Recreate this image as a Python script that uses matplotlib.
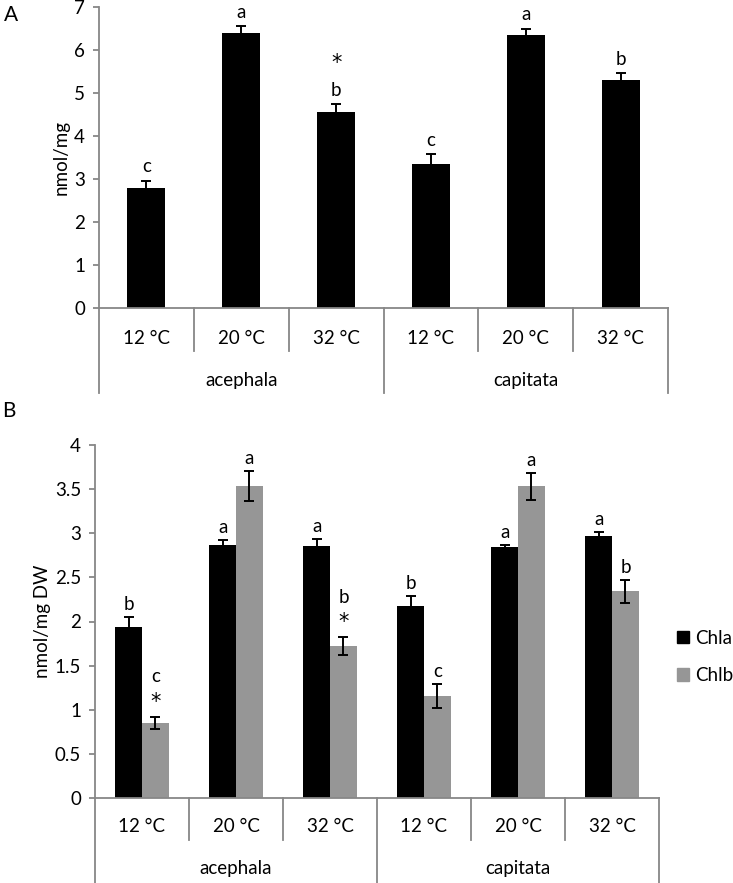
import numpy as np
import matplotlib
matplotlib.use("Agg")
import matplotlib.pyplot as plt
from matplotlib.patches import Patch

# categories
temps = ["12 °C", "20 °C", "32 °C", "12 °C", "20 °C", "32 °C"]
groups = ["acephala", "capitata"]

# panel A: total chlorophyll (nmol/mg)
a_vals = [2.79, 6.39, 4.56, 3.35, 6.36, 5.30]
a_err = [0.17, 0.17, 0.18, 0.23, 0.14, 0.16]
a_letters = ["c", "a", "b", "c", "a", "b"]
a_stars = [False, False, True, False, False, False]

# panel B: Chla / Chlb (nmol/mg DW)
chla = [1.94, 2.87, 2.86, 2.18, 2.84, 2.97]
chla_err = [0.11, 0.05, 0.07, 0.11, 0.03, 0.04]
chlb = [0.85, 3.53, 1.72, 1.16, 3.53, 2.34]
chlb_err = [0.065, 0.17, 0.10, 0.135, 0.155, 0.13]
chla_letters = ["b", "a", "a", "b", "a", "a"]
chlb_letters = ["c", "a", "b", "c", "a", "b"]
chlb_stars = [True, False, True, False, False, False]

AXIS_GRAY = "#878787"
CHLB_GRAY = "#969696"
FS = 13.5
STAR = dict(fontsize=15, family=["DejaVu Sans"])

plt.rcParams["font.family"] = ["Lato", "DejaVu Sans"]
plt.rcParams["font.size"] = FS


def style_axis(ax, ymax, step):
    for s in ["top", "right"]:
        ax.spines[s].set_visible(False)
    for s in ["left", "bottom"]:
        ax.spines[s].set_color(AXIS_GRAY)
        ax.spines[s].set_linewidth(1.3)
    ax.set_xlim(-0.5, len(temps) - 0.5)
    ax.set_ylim(0, ymax)
    ax.set_yticks(np.arange(0, ymax + step / 2, step))
    ax.yaxis.set_major_formatter(plt.FuncFormatter(lambda v, p: f"{v:g}"))
    ax.tick_params(axis="y", color=AXIS_GRAY, width=1.3, length=4, labelsize=FS, pad=6)
    ax.set_xticks([])


def category_axis(ax, minor_bot, major_bot, temp_y, group_y):
    tr = ax.get_xaxis_transform()
    n = len(temps)
    for i in range(n + 1):
        xb = i - 0.5
        bot = major_bot if i % 3 == 0 else minor_bot
        ax.plot([xb, xb], [0, bot], color=AXIS_GRAY, lw=1.3, transform=tr, clip_on=False)
    for i, t in enumerate(temps):
        ax.text(i, temp_y, t, transform=tr, ha="center", va="center", fontsize=FS)
    for g, name in enumerate(groups):
        ax.text(g * 3 + 1, group_y, name, transform=tr, ha="center", va="center", fontsize=FS)


fig = plt.figure(figsize=(7.33, 8.83), dpi=100)

# ---- panel A
axA = fig.add_axes([99 / 733, 1 - 308 / 883, (668 - 99) / 733, 301 / 883])
x = np.arange(len(temps))
axA.bar(x, a_vals, width=0.40, color="black", yerr=a_err, capsize=3.5,
        error_kw=dict(elinewidth=1.4, capthick=1.4, ecolor="black"))
style_axis(axA, 7, 1)
category_axis(axA, -0.143, -0.282, -0.10, -0.24)
axA.set_ylabel("nmol/mg", fontsize=FS, labelpad=3)
for i in range(len(temps)):
    top = a_vals[i] + a_err[i]
    axA.annotate(a_letters[i], (x[i], top), xytext=(0, 10), textcoords="offset points",
                 ha="center", va="center", fontsize=FS)
    if a_stars[i]:
        axA.annotate("*", (x[i], top), xytext=(0, 30), textcoords="offset points",
                     ha="center", va="center", **STAR)
fig.text(4 / 733, 1 - 15 / 883, "A", fontsize=15, va="center")

# ---- panel B
axB = fig.add_axes([95 / 733, 1 - 798 / 883, (659 - 95) / 733, 353 / 883])
w = 0.285
axB.bar(x - w / 2, chla, width=w, color="black", yerr=chla_err, capsize=3.5,
        error_kw=dict(elinewidth=1.4, capthick=1.4, ecolor="black"), label="Chla")
axB.bar(x + w / 2, chlb, width=w, color=CHLB_GRAY, yerr=chlb_err, capsize=3.5,
        error_kw=dict(elinewidth=1.4, capthick=1.4, ecolor="black"), label="Chlb")
style_axis(axB, 4, 0.5)
category_axis(axB, -0.119, -0.26, -0.082, -0.201)
axB.set_ylabel("nmol/mg DW", fontsize=FS, labelpad=3)
for i in range(len(temps)):
    top_a = chla[i] + chla_err[i]
    axB.annotate(chla_letters[i], (x[i] - w / 2, top_a), xytext=(0, 9), textcoords="offset points",
                 ha="center", va="center", fontsize=FS)
    top_b = chlb[i] + chlb_err[i]
    if chlb_stars[i]:
        axB.annotate("*", (x[i] + w / 2, top_b), xytext=(0, 11), textcoords="offset points",
                     ha="center", va="center", **STAR)
        axB.annotate(chlb_letters[i], (x[i] + w / 2, top_b), xytext=(0, 29), textcoords="offset points",
                     ha="center", va="center", fontsize=FS)
    else:
        axB.annotate(chlb_letters[i], (x[i] + w / 2, top_b), xytext=(0, 9), textcoords="offset points",
                     ha="center", va="center", fontsize=FS)
fig.text(2 / 733, 1 - 411 / 883, "B", fontsize=15, va="center")

handles = [Patch(color="black"), Patch(color=CHLB_GRAY)]
fig.legend(handles, ["Chla", "Chlb"], loc="center left", bbox_to_anchor=(677 / 733, 1 - 657 / 883),
           frameon=False, handlelength=0.65, handleheight=0.65, handletextpad=0.3,
           labelspacing=1.1, borderpad=0, borderaxespad=0, fontsize=FS)

fig.savefig("out.png", dpi=100)
